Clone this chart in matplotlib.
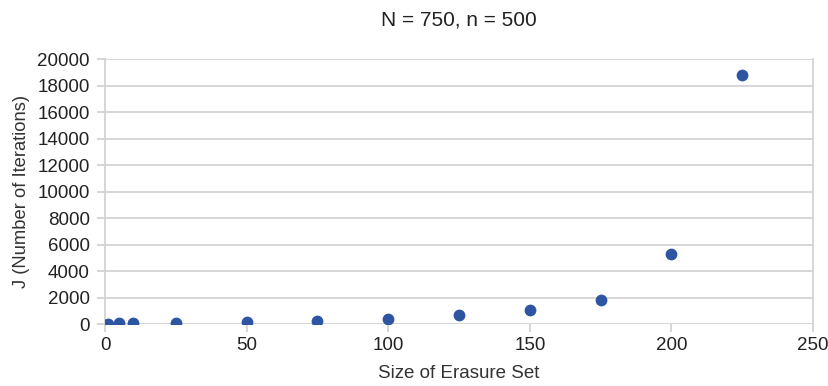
import matplotlib
matplotlib.use("Agg")
import matplotlib.pyplot as plt

# erasure set size vs number of iterations
erasure_size = [1, 5, 10, 25, 50, 75, 100, 125, 150, 175, 200, 225]
iterations = [30, 40, 50, 60, 150, 250, 400, 650, 1050, 1850, 5250, 18800]

plt.rcParams['font.family'] = ['Liberation Sans', 'DejaVu Sans']

fig = plt.figure(figsize=(8.29, 3.86), dpi=100)
ax = fig.add_axes([0.1267, 0.1606, 0.854, 0.6864])

ax.scatter(erasure_size, iterations, s=72, color='#2d55a2', zorder=3, linewidths=0)

ax.set_xlim(0, 250)
ax.set_ylim(0, 20000)
ax.set_xticks(range(0, 251, 50))
ax.set_yticks(range(0, 20001, 2000))
ax.grid(axis='y', color='#d0d0d0', linewidth=1.2)
ax.set_axisbelow(True)

for side in ['top', 'bottom']:
    ax.spines[side].set_visible(False)
ax.spines['left'].set_color('#d0d0d0')
ax.spines['right'].set_color('#d0d0d0')
ax.spines['left'].set_linewidth(1.2)
ax.spines['right'].set_linewidth(1.2)

ax.tick_params(axis='y', length=6, color='#d0d0d0', width=1.2, pad=5, labelsize=13.5, labelcolor='#222222')
ax.tick_params(axis='x', length=6, color='#d0d0d0', width=1.2, pad=3, labelsize=13.5, labelcolor='#222222')

ax.set_xlabel('Size of Erasure Set', fontsize=13.5, color='#333333', labelpad=8)
ax.set_ylabel('J (Number of Iterations)', fontsize=13.2, color='#333333', labelpad=5)
fig.text(0.553, 0.948, 'N = 750, n = 500', ha='center', va='center', fontsize=15, color='#222222')

plt.savefig("out.png", dpi=100)
